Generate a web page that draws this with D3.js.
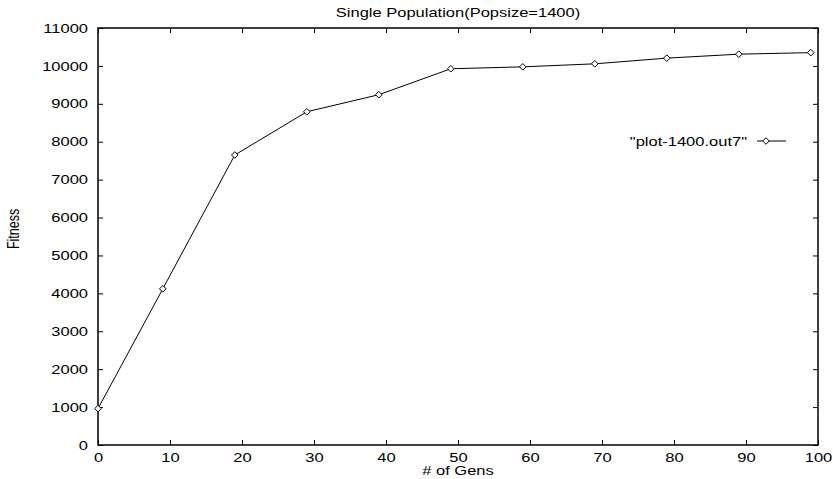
<!DOCTYPE html>
<html lang="en">
<head>
  <meta charset="UTF-8">
  <title>Single Population</title>
  <script src="https://cdn.jsdelivr.net/npm/d3@7"></script>
  <style>
    body { margin: 0; background: #fff; }
    text { font-family: "Liberation Sans", Arial, sans-serif; fill: #000; }
  </style>
</head>
<body>
<svg></svg>
<script>
  const gens = [0, 9, 19, 29, 39, 49, 59, 69, 79, 89, 99]
  const fitness = [960, 4120, 7650, 8790, 9240, 9925, 9975, 10055, 10205, 10310, 10350]
  const xTicks = d3.range(0, 101, 10)
  const yTicks = d3.range(0, 11001, 1000)

  const width = 833, height = 479
  const margin = ({top: 28, right: 15, bottom: 34, left: 98})

  const svg = d3.select('svg')
      .attr('width', width)
      .attr('height', height)

  const x = d3.scaleLinear()
      .domain([0, 100])
      .range([margin.left, width - margin.right])

  const y = d3.scaleLinear()
      .domain([0, 11000])
      .range([height - margin.bottom, margin.top])

  const tick = 5
  const sx = 1.27

  // gnuplot-ish wide lettering: stretch text horizontally around its anchor
  const stretch = sel => sel.each(function () {
    const t = d3.select(this)
    const ax = +t.attr('x') || 0
    t.attr('transform', `translate(${ax},0) scale(${sx},1) translate(${-ax},0)`)
  })

  // bottom axis + mirror ticks on top
  svg.append('g')
      .attr('transform', `translate(0,${y(0)})`)
      .call(d3.axisBottom(x).tickValues(xTicks).tickSizeInner(-tick).tickSizeOuter(0).tickPadding(8).tickFormat(d3.format('d')))
      .call(g => g.select('.domain').remove())
      .call(g => g.selectAll('text').attr('font-size', 13).call(stretch))

  svg.append('g')
      .attr('transform', `translate(0,${y(11000)})`)
      .call(d3.axisTop(x).tickValues(xTicks).tickSizeInner(-tick).tickSizeOuter(0).tickFormat(''))
      .call(g => g.select('.domain').remove())

  svg.append('g')
      .attr('transform', `translate(${x(0)},0)`)
      .call(d3.axisLeft(y).tickValues(yTicks).tickSizeInner(-tick).tickSizeOuter(0).tickPadding(10).tickFormat(d3.format('d')))
      .call(g => g.select('.domain').remove())
      .call(g => g.selectAll('text').attr('font-size', 13).call(stretch))

  svg.append('g')
      .attr('transform', `translate(${x(100)},0)`)
      .call(d3.axisRight(y).tickValues(yTicks).tickSizeInner(-tick).tickSizeOuter(0).tickFormat(''))
      .call(g => g.select('.domain').remove())

  svg.selectAll('.tick line').attr('stroke', '#000')

  // frame
  svg.append('rect')
      .attr('x', x(0))
      .attr('y', y(11000))
      .attr('width', x(100) - x(0))
      .attr('height', y(0) - y(11000))
      .attr('fill', 'none')
      .attr('stroke', '#000')
      .attr('stroke-width', 1.5)

  const data = gens.map((g, i) => ({g, v: fitness[i]}))

  const line = d3.line()
      .x(d => x(d.g))
      .y(d => y(d.v))

  svg.append('path')
      .datum(data)
      .attr('fill', 'none')
      .attr('stroke', '#000')
      .attr('stroke-width', 1)
      .attr('d', line)

  const diamond = d3.symbol().type(d3.symbolDiamond2).size(28)

  svg.append('g')
      .selectAll('path')
      .data(data)
      .join('path')
      .attr('transform', d => `translate(${x(d.g)},${y(d.v)})`)
      .attr('d', diamond)
      .attr('fill', '#fff')
      .attr('stroke', '#000')
      .attr('stroke-width', 1)

  // legend
  const lg = svg.append('g').attr('transform', 'translate(0,141)')
  lg.append('text')
      .attr('x', 747)
      .attr('dy', '0.35em')
      .attr('text-anchor', 'end')
      .attr('font-size', 13)
      .text('"plot-1400.out7"')
      .call(stretch)
  lg.append('line')
      .attr('x1', 757).attr('x2', 786)
      .attr('stroke', '#000')
  lg.append('path')
      .attr('transform', 'translate(766,0)')
      .attr('d', diamond)
      .attr('fill', '#fff')
      .attr('stroke', '#000')

  // titles
  svg.append('text')
      .attr('x', 458)
      .attr('y', 17)
      .attr('text-anchor', 'middle')
      .attr('font-size', 13)
      .text('Single Population(Popsize=1400)')
      .call(stretch)

  svg.append('text')
      .attr('x', 458)
      .attr('y', 475)
      .attr('text-anchor', 'middle')
      .attr('font-size', 13)
      .text('# of Gens')
      .call(stretch)

  svg.append('text')
      .attr('transform', `translate(13,229) scale(${sx},1) rotate(-90)`)
      .attr('dy', '0.35em')
      .attr('text-anchor', 'middle')
      .attr('font-size', 12.5)
      .text('Fitness')
</script>
</body>
</html>
